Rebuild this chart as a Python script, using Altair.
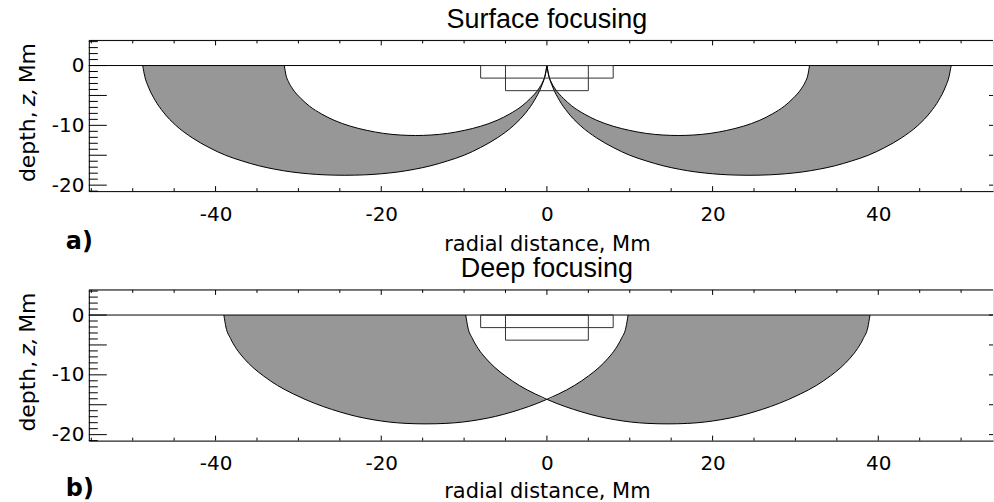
import altair as alt
import pandas as pd

FONT = "Liberation Sans"
LFONT = "DejaVu Sans"
W, H = 906, 151
XDOM = [-55.3, 53.85]
YDOM = [-21.0, 4.2]
GRAY = "#979797"

# ---------------- data ----------------
# panel a) surface focusing: outer and inner ray paths (radial distance, depth in Mm)
a_outer_l_x = [-48.8, -48.55, -48.1, -47.3, -46.3, -44.8, -42.8, -40.8, -38.8, -36.8, -34.8,
               -32.8, -30.8, -28.8, -26.8, -24.4, -22.0, -20.0, -18.0, -16.0, -14.0, -12.0,
               -10.0, -8.0, -6.0, -4.0, -2.5, -1.5, -0.7, -0.25, 0.0]
a_outer_l_z = [0, -1.8, -3.6, -5.8, -7.8, -10.0, -12.1, -13.7, -15.0, -15.95, -16.75, -17.35,
               -17.8, -18.1, -18.28, -18.35, -18.28, -18.1, -17.8, -17.35, -16.75, -15.95, -15.0,
               -13.7, -12.1, -10.0, -7.8, -5.8, -3.6, -1.8, 0]
a_outer_r_x = [0.0, 0.25, 0.7, 1.5, 2.5, 4.0, 6.0, 8.0, 10.0, 12.0, 14.0, 16.0, 18.0, 20.0, 22.0,
               24.4, 26.8, 28.8, 30.8, 32.8, 34.8, 36.8, 38.8, 40.8, 42.8, 44.8, 46.3, 47.3,
               48.1, 48.55, 48.8]
a_outer_r_z = [0, -1.8, -3.6, -5.8, -7.8, -10.0, -12.1, -13.7, -15.0, -15.95, -16.75, -17.35,
               -17.8, -18.1, -18.28, -18.35, -18.28, -18.1, -17.8, -17.35, -16.75, -15.95, -15.0,
               -13.7, -12.1, -10.0, -7.8, -5.8, -3.6, -1.8, 0]
a_inner_l_x = [-31.7, -31.5, -31.2, -30.7, -29.7, -28.7, -27.2, -25.7, -23.7, -21.7, -19.7, -17.7,
               -15.85, -14.0, -12.0, -10.0, -8.0, -6.0, -4.5, -3.0, -2.0, -1.0, -0.5, -0.2, 0.0]
a_inner_l_z = [0, -1.6, -2.7, -3.9, -5.5, -6.75, -8.1, -9.15, -10.15, -10.85, -11.35, -11.62,
               -11.7, -11.62, -11.35, -10.85, -10.15, -9.15, -8.1, -6.75, -5.5, -3.9, -2.7,
               -1.6, 0]
a_inner_r_x = [0.0, 0.2, 0.5, 1.0, 2.0, 3.0, 4.5, 6.0, 8.0, 10.0, 12.0, 14.0, 15.85, 17.7, 19.7,
               21.7, 23.7, 25.7, 27.2, 28.7, 29.7, 30.7, 31.2, 31.5, 31.7]
a_inner_r_z = [0, -1.6, -2.7, -3.9, -5.5, -6.75, -8.1, -9.15, -10.15, -10.85, -11.35, -11.62,
               -11.7, -11.62, -11.35, -10.85, -10.15, -9.15, -8.1, -6.75, -5.5, -3.9, -2.7,
               -1.6, 0]

# panel b) deep focusing: two ray paths crossing at the focus (0, -14.1)
b_left_x = [-39.0, -38.75, -38.2, -37.5, -36.6, -35.5, -34.2, -32.5, -30.6, -29.2, -27.0, -25.0,
            -23.0, -21.0, -19.0, -17.0, -14.6, -12.2, -10.2, -8.2, -6.2, -4.2, -2.2, 0.0,
            1.4, 3.3, 5.0, 6.3, 7.4, 8.3, 9.0, 9.55, 9.8]
b_left_z = [0, -2.0, -3.9, -5.6, -7.2, -8.75, -10.2, -11.8, -13.2, -14.1, -15.3, -16.2, -16.95,
            -17.5, -17.9, -18.12, -18.2, -18.12, -17.9, -17.5, -16.95, -16.2, -15.3, -14.1,
            -13.2, -11.8, -10.2, -8.75, -7.2, -5.6, -3.9, -2.0, 0]
b_right_x = [-9.8, -9.55, -9.0, -8.3, -7.4, -6.3, -5.0, -3.3, -1.4, 0.0, 2.2, 4.2, 6.2, 8.2, 10.2,
             12.2, 14.6, 17.0, 19.0, 21.0, 23.0, 25.0, 27.0, 29.2, 30.6, 32.5, 34.2, 35.5, 36.6,
             37.5, 38.2, 38.75, 39.0]
b_right_z = [0, -2.0, -3.9, -5.6, -7.2, -8.75, -10.2, -11.8, -13.2, -14.1, -15.3, -16.2, -16.95,
             -17.5, -17.9, -18.12, -18.2, -18.12, -17.9, -17.5, -16.95, -16.2, -15.3, -14.1,
             -13.2, -11.8, -10.2, -8.75, -7.2, -5.6, -3.9, -2.0, 0]

# averaging boxes near the focus (same in both panels)
box_x0 = [-8.0, -5.0]
box_x1 = [8.0, 5.0]
box_z0 = [0.0, 0.0]
box_z1 = [-2.1, -4.2]

# tick positions and labels
x_labels = [-40, -20, 0, 20, 40]
x_minor = [-55, -50, -45, -35, -30, -25, -15, -10, -5, 5, 10, 15, 25, 30, 35, 45, 50]
y_labels = [-20, -15, -10, -5, 0]
y_minor = [-21, -19, -18, -17, -16, -14, -13, -12, -11, -9, -8, -7, -6, -4, -3, -2, -1, 1, 2, 3, 4]

titles = ["Surface focusing", "Deep focusing"]
panel_tags = ["a)", "b)"]


def arc_df(name, xs, zs):
    return pd.DataFrame({"arc": name, "x": xs, "z": zs, "z0": 0.0, "i": list(range(len(xs)))})


xscale = alt.Scale(domain=XDOM, nice=False, zero=False)
yscale = alt.Scale(domain=YDOM, nice=False, zero=False)


def make_axes(title_pad):
    xa = alt.Axis(values=x_labels, ticks=False, grid=False, domain=True, domainColor="black",
                  domainWidth=1, labelFont=LFONT, labelFontSize=20, labelColor="black",
                  labelPadding=13, labelFlush=False, labelExpr="'' + datum.value",
                  title="radial distance, Mm", titleFont=LFONT, titleFontSize=21,
                  titleFontWeight="normal", titleColor="black", titlePadding=title_pad,
                  titleX=459)
    ya = alt.Axis(values=y_labels, ticks=False, grid=False, domain=True, domainColor="black",
                  domainWidth=1, labelFont=LFONT, labelFontSize=20, labelColor="black",
                  labelPadding=5, labelFlush=False, labelExpr="'' + datum.value", title=None)
    return xa, ya


def panel(arcs, gray_parts, white_parts, title, tag, title_pad, tag_y):
    xa, ya = make_axes(title_pad)

    def X(field):
        return alt.X(field, type="quantitative", scale=xscale, axis=xa)

    def Y(field):
        return alt.Y(field, type="quantitative", scale=yscale, axis=ya)

    layers = []
    for df in gray_parts:
        layers.append(alt.Chart(df).mark_area(color=GRAY, interpolate="monotone").encode(
            x=X("x"), y=Y("z"), y2="z0"))
    for df in white_parts:
        layers.append(alt.Chart(df).mark_area(color="white", interpolate="monotone").encode(
            x=X("x"), y=Y("z"), y2="z0"))
    arcs_all = pd.concat(arcs, ignore_index=True)
    layers.append(alt.Chart(arcs_all).mark_line(color="black", strokeWidth=1,
                                                interpolate="monotone").encode(
        x=X("x"), y=Y("z"), detail="arc:N", order="i:Q"))
    one = pd.DataFrame({"k": [0]})
    layers.append(alt.Chart(one).mark_rule(color="black", strokeWidth=1).encode(y=alt.datum(0)))
    boxes = pd.DataFrame({"x0": box_x0, "x1": box_x1, "z0": box_z0, "z1": box_z1})
    layers.append(alt.Chart(boxes).mark_rect(fillOpacity=0, stroke="#333333", strokeWidth=1).encode(
        x=X("x0"), x2="x1", y=Y("z0"), y2="z1"))

    # inward ticks
    xm = pd.DataFrame({"v": x_labels})
    xn = pd.DataFrame({"v": x_minor})
    ym = pd.DataFrame({"v": y_labels})
    yn = pd.DataFrame({"v": y_minor})
    base = dict(color="black", strokeWidth=1)
    layers.append(alt.Chart(xm).mark_rule(**base).encode(x=X("v"), y=alt.value(H), y2=alt.value(H - 5)))
    layers.append(alt.Chart(xn).mark_rule(**base).encode(x=X("v"), y=alt.value(H), y2=alt.value(H - 3)))
    layers.append(alt.Chart(xm).mark_rule(**base).encode(x=X("v"), y=alt.value(0), y2=alt.value(5)))
    layers.append(alt.Chart(xn).mark_rule(**base).encode(x=X("v"), y=alt.value(0), y2=alt.value(3)))
    layers.append(alt.Chart(ym).mark_rule(**base).encode(y=Y("v"), x=alt.value(0), x2=alt.value(18)))
    layers.append(alt.Chart(yn).mark_rule(**base).encode(y=Y("v"), x=alt.value(0), x2=alt.value(9)))
    layers.append(alt.Chart(ym).mark_rule(**base).encode(y=Y("v"), x=alt.value(W - 4), x2=alt.value(W)))
    layers.append(alt.Chart(one).mark_rule(**base).encode(y=alt.value(0)))

    # y title with italic z, and panel tag
    common = dict(font=LFONT, fontSize=22, color="black", angle=270, baseline="alphabetic")
    layers += [
        alt.Chart(one).mark_text(align="right", **common).encode(
            x=alt.value(-54), y=alt.value(71), text=alt.value("depth,")),
        alt.Chart(one).mark_text(align="left", fontStyle="italic", **common).encode(
            x=alt.value(-54), y=alt.value(66), text=alt.value("z,")),
        alt.Chart(one).mark_text(align="left", **common).encode(
            x=alt.value(-54), y=alt.value(43), text=alt.value("Mm")),
        alt.Chart(one).mark_text(align="left", font=LFONT, fontSize=24, fontWeight="bold",
                                 color="black", baseline="alphabetic").encode(
            x=alt.value(-23), y=alt.value(tag_y), text=alt.value(tag)),
    ]
    return alt.layer(*layers).properties(
        width=W, height=H,
        title=alt.TitleParams(title, font=FONT, fontSize=27, fontWeight="normal", color="black",
                              anchor="middle", dx=6, offset=6))


a_ol = arc_df("ol", a_outer_l_x, a_outer_l_z)
a_or = arc_df("or", a_outer_r_x, a_outer_r_z)
a_il = arc_df("il", a_inner_l_x, a_inner_l_z)
a_ir = arc_df("ir", a_inner_r_x, a_inner_r_z)
top = panel([a_ol, a_or, a_il, a_ir], [a_ol, a_or], [a_il, a_ir], titles[0], panel_tags[0], 9, 209)

b_l = arc_df("l", b_left_x, b_left_z)
b_r = arc_df("r", b_right_x, b_right_z)
lens = pd.concat([b_r[b_r.x <= 0], b_l[b_l.x > 0]], ignore_index=True)
bot = panel([b_l, b_r],
            [b_l[b_l.x <= 0], b_r[b_r.x >= 0]],
            [lens],
            titles[1], panel_tags[1], 7, 206)

chart = alt.vconcat(top, bot, spacing=0).properties(
    padding={"left": 16, "top": 5, "right": 0, "bottom": 0}
).configure_view(stroke=None).configure(font=FONT)

chart.save("out.html", embed_options={"renderer": "svg", "actions": False})
